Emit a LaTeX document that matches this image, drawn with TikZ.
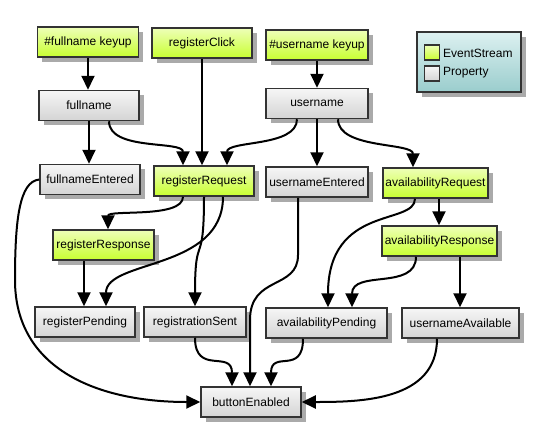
\documentclass[tikz,border=0pt]{standalone}
\usepackage{fontspec}
\setmainfont{Liberation Sans}
\usetikzlibrary{arrows.meta,shadows}
\definecolor{evtop}{HTML}{EEFFB8}
\definecolor{evbot}{HTML}{C8FF30}
\definecolor{prtop}{HTML}{F6F6F6}
\definecolor{prbot}{HTML}{D4D4D4}
\definecolor{lgtop}{HTML}{DCF0F0}
\definecolor{lgbot}{HTML}{9ACDCD}
\definecolor{bord}{HTML}{333333}
\definecolor{shad}{HTML}{AAAAAA}
\tikzset{
  box/.style={draw=bord, line width=1.5pt, minimum height=30pt, inner sep=0pt,
    font=\fontsize{12}{14}\selectfont,
    drop shadow={shadow xshift=4.5pt, shadow yshift=-4.5pt, fill=shad, opacity=1}},
  ev/.style={box, top color=evtop, bottom color=evbot},
  pr/.style={box, top color=prtop, bottom color=prbot},
  edge/.style={line width=2pt, -{Triangle[length=14pt,width=13pt]}},
}
\begin{document}
\begin{tikzpicture}[x=1pt,y=-1pt]
\useasboundingbox (0,0) rectangle (541,437);
% legend
\node[draw=bord, line width=1.5pt, top color=lgtop, bottom color=lgbot,
  minimum width=104pt, minimum height=60pt, inner sep=0pt,
  drop shadow={shadow xshift=4.5pt, shadow yshift=-4.5pt, fill=shad, opacity=1}] (lg) at (469,62) {};
\node[draw=bord, line width=1.5pt, top color=evtop, bottom color=evbot, minimum size=15pt, inner sep=0pt] (lgev) at (432,52.5) {};
\node[draw=bord, line width=1.5pt, top color=prtop, bottom color=prbot, minimum size=15pt, inner sep=0pt] (lgpr) at (432,73.5) {};
\node[anchor=west, inner sep=0pt, font=\fontsize{12}{14}\selectfont] (lgevt) at (443,53) {EventStream};
\node[anchor=west, inner sep=0pt, font=\fontsize{12}{14}\selectfont] (lgprt) at (443,73) {Property};
% nodes
\node[ev, minimum width=101pt] (fk) at (88,42) {\#fullname keyup};
\node[ev, minimum width=100pt] (rc) at (202,43) {registerClick};
\node[ev, minimum width=102pt] (uk) at (317,45) {\#username keyup};
\node[pr, minimum width=100pt] (fn) at (89,105.5) {fullname};
\node[pr, minimum width=102pt] (un) at (317,103.5) {username};
\node[pr, minimum width=100pt] (fe) at (90,179.5) {fullnameEntered};
\node[ev, minimum width=100pt] (rr) at (204,181) {registerRequest};
\node[pr, minimum width=102pt] (ue) at (317,182) {usernameEntered};
\node[ev, minimum width=105pt] (ar) at (435.5,183) {availabilityRequest};
\node[ev, minimum width=101pt] (rs) at (103.5,245) {registerResponse};
\node[ev, minimum width=115pt] (ap2) at (439.5,241) {availabilityResponse};
\node[pr, minimum width=100pt] (rp) at (85,322) {registerPending};
\node[pr, minimum width=102pt] (rsent) at (195,322) {registrationSent};
\node[pr, minimum width=121pt] (ap) at (326.5,323) {availabilityPending};
\node[pr, minimum width=117pt] (ua) at (460.5,323) {usernameAvailable};
\node[pr, minimum width=100pt] (be) at (251,402) {buttonEnabled};
% edges
\draw[edge] (fk.south) -- (fk.south |- fn.north);
\draw[edge] (fn.south) -- (fn.south |- fe.north);
\draw[edge] ([xshift=20pt]fn.south) .. controls +(0,30) and +(0,-25) .. ([xshift=-21pt]rr.north);
\draw[edge] (rc.south) -- (rc.south |- rr.north);
\draw[edge] ([xshift=-20pt]un.south) .. controls +(0,28) and +(0,-25) .. ([xshift=23pt]rr.north);
\draw[edge] (uk.south) -- (uk.south |- un.north);
\draw[edge] (un.south) -- (un.south |- ue.north);
\draw[edge] ([xshift=21pt]un.south) .. controls +(0,30) and +(0,-25) .. ([xshift=-22.5pt]ar.north);
\draw[edge] ([xshift=-21pt]rr.south) .. controls +(0,22) and +(0,-20) .. ([xshift=4.5pt]rs.north);
\draw[edge] ([xshift=19pt]rr.south) .. controls +(0,74) and +(0,-47) .. ([xshift=21pt]rp.north);
\draw[edge] (rr.south) .. controls +(0,74) and +(0,-77) .. (rsent.north);
\draw[edge] ([xshift=-19.5pt]rs.south) -- ([xshift=-19.5pt]rs.south |- rp.north);
\draw[edge] ([xshift=3.5pt]ar.south) -- ([xshift=3.5pt]ar.south |- ap2.north);
\draw[edge] ([xshift=-20.5pt]ar.south) .. controls +(0,27) and +(0,-103) .. ([xshift=1.5pt]ap.north);
\draw[edge] ([xshift=-23.5pt]ap2.south) .. controls +(0,34) and +(0,-38) .. ([xshift=25.5pt]ap.north);
\draw[edge] ([xshift=20.5pt]ap2.south) -- ([xshift=20.5pt]ap2.south |- ua.north);
\draw[edge] ([xshift=-19pt]ue.south) -- ([xshift=-19pt]ue.south |- 0,255) .. controls +(0,35) and +(0,-45) .. (250,320) -- ([xshift=-1pt]be.north);
\draw[edge] (rsent.south) .. controls +(0,38) and +(0,-37) .. ([xshift=-19pt]be.north);
\draw[edge] ([xshift=-23.5pt]ap.south) .. controls +(0,37) and +(0,-37) .. ([xshift=20pt]be.north);
\draw[edge] (fe.west) .. controls +(-20,2) and +(0,-60) .. (15,280) .. controls +(0,90) and +(-101,0) .. (be.west);
\draw[edge] ([xshift=-23.5pt]ua.south) .. controls +(0,62) and +(59,0) .. (be.east);
\end{tikzpicture}
\end{document}
